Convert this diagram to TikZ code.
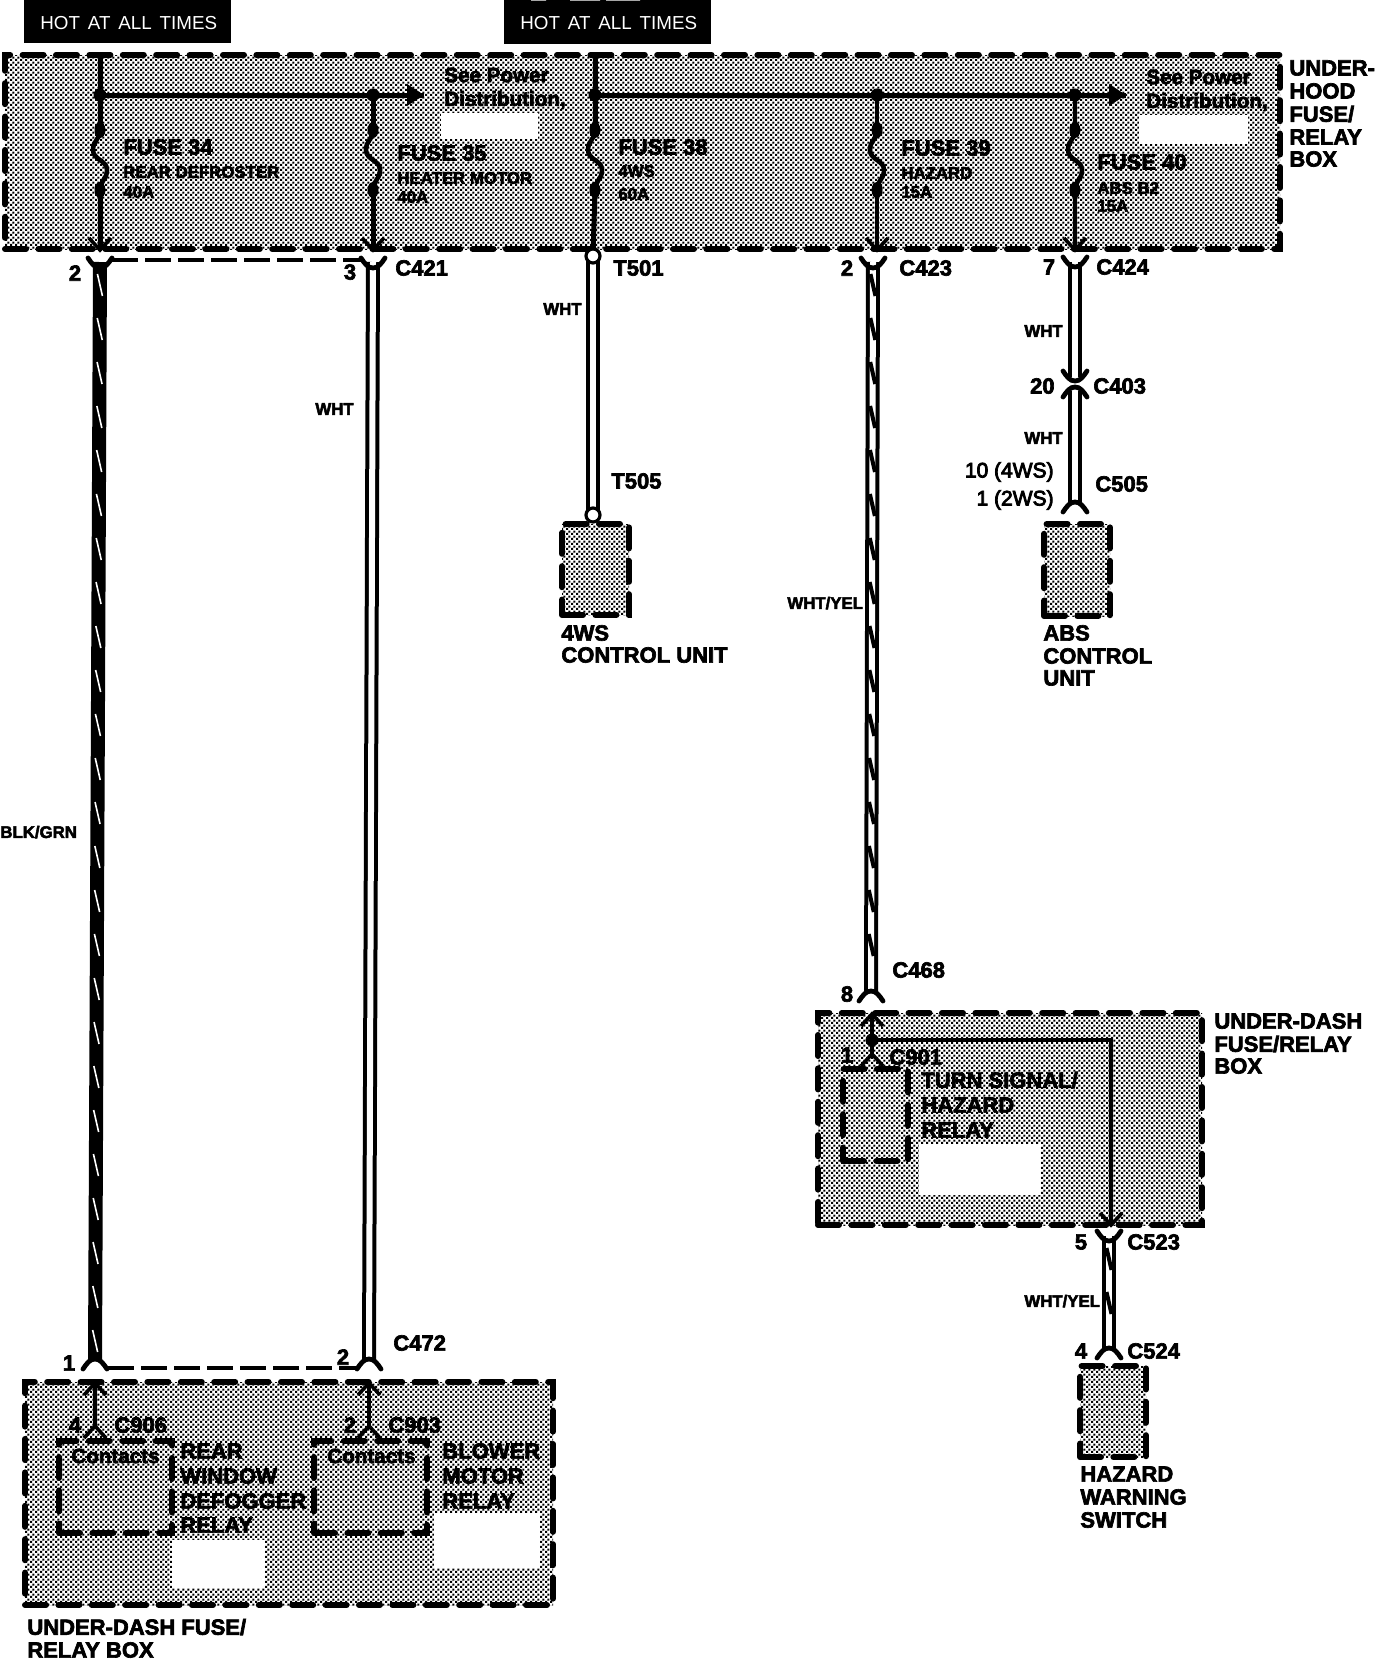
\documentclass[tikz,border=0pt]{standalone}
\usepackage{fontspec}
\usetikzlibrary{patterns,calc}
\setmainfont{Liberation Sans}
\newfontfamily\hv[FakeBold=3]{Liberation Sans Bold}
\newfontfamily\rg[FakeBold=4]{Liberation Sans}
\newfontfamily\thinf[WordSpace=1.5]{Liberation Sans}
\pgfdeclarepatternformonly{dith}{\pgfqpoint{0pt}{0pt}}{\pgfqpoint{2.6pt}{2.6pt}}{\pgfqpoint{2.6pt}{2.6pt}}{%
  \pgfpathrectangle{\pgfqpoint{0pt}{0pt}}{\pgfqpoint{1.25pt}{1.25pt}}%
  \pgfpathrectangle{\pgfqpoint{1.3pt}{1.3pt}}{\pgfqpoint{1.25pt}{1.25pt}}%
  \pgfusepath{fill}}
\tikzset{
  unitbox/.style={rectangle,draw=black,line width=3pt,dash pattern=on 10.5pt off 6.2pt,pattern=dith,pattern color=black,inner sep=0pt,line cap=round},
  relaybox/.style={rectangle,draw=black,line width=3pt,dash pattern=on 10.5pt off 6.2pt,inner sep=0pt,line cap=round},
  blank/.style={fill=white,draw=none},
  bus/.style={draw=black,line width=2.5pt},
  thinwire/.style={draw=black,line width=2pt},
  dblwire/.style={draw=black,line width=2pt,double=white,double distance=3pt},
  blkwire/.style={draw=black,line width=7pt},
  bar/.style={draw=black,line width=2pt,dash pattern=on 13pt off 3.5pt},
  big/.style={anchor=west,inner sep=0pt,font=\fontsize{11}{11}\selectfont\hv},
  small/.style={anchor=west,inner sep=0pt,font=\fontsize{8.4}{8.4}\selectfont\hv},
  reg/.style={anchor=west,inner sep=0pt,font=\fontsize{10.5}{10.5}\selectfont\rg},
  semi/.style={anchor=west,inner sep=0pt,font=\fontsize{10.3}{10.3}\selectfont\hv},
  ban/.style={anchor=west,inner sep=0pt,text=white,font=\fontsize{9.4}{9.4}\selectfont\thinf},
  pics/sockdown/.style={code={\draw[line width=2.4pt,line cap=round] (-12,0) .. controls (-8,6) and (-5,10) .. (0,10) .. controls (5,10) and (8,6) .. (12,0);}},
  pics/sockup/.style={code={\draw[line width=2.4pt,line cap=round] (-12,0) .. controls (-8,-6) and (-5,-10) .. (0,-10) .. controls (5,-10) and (8,-6) .. (12,0);}},
  pics/vdown/.style={code={\draw[line width=1.8pt] (-11,-12) -- (0,0) -- (11,-12);}},
  pics/vup/.style={code={\draw[line width=1.8pt] (-11,12) -- (0,0) -- (11,12);}},
  pics/fuselink/.style={code={
    \draw[line width=2.3pt] (0,0) .. controls (0,10) and (-7,10) .. (-7,20) .. controls (-7,30) and (7,30) .. (7,40) .. controls (7,50) and (0,50) .. (0,60);
    \fill (0,0) ellipse[x radius=5.5,y radius=8];
    \fill (0,60) ellipse[x radius=5.5,y radius=8];}},
}
\newcommand{\boxnode}[6][unitbox]{\node[#1,minimum width={(#5-#3)*0.5pt},minimum height={(#6-#4)*0.5pt}] (#2) at ({(#3+#5)/2},{(#4+#6)/2}) {};}
\newcommand{\wiretick}[6]{% x1 y1 x2 y2 colour width
  \pgfmathtruncatemacro{\nt}{(#4-#2-30)/44}
  \foreach \k in {0,...,\nt}{
    \pgfmathsetmacro{\yy}{#2+12+44*\k}
    \pgfmathsetmacro{\xx}{#1+(#3-#1)*(\yy-#2)/(#4-#2)}
    \draw[draw=#5,line width=#6] (\xx-2.5,\yy) -- (\xx+2.5,\yy+22);
  }}
\begin{document}
\begin{tikzpicture}[x=0.5pt,y=-0.5pt]
\useasboundingbox (0,0) rectangle (1392,1660);
% banners
\node[fill=black,inner sep=0pt,minimum width=103.5pt,minimum height=21.4pt] (ban1) at (127.5,21.4) {};
\node[fill=black,inner sep=0pt,minimum width=103.5pt,minimum height=21.8pt] (ban2) at (607.5,21.8) {};
\fill[white] (531,0) rectangle (546,0.7) (570,0) rectangle (600,0.7) (606,0) rectangle (640,0.7);
\node[ban] (bt1) at (40,23) {HOT AT ALL TIMES};
\node[ban] (bt2) at (520,23.5) {HOT AT ALL TIMES};
% boxes
\boxnode{hood}{5}{55}{1280}{249}
\boxnode{dashtop}{818}{1013}{1202}{1225}
\boxnode{dashbot}{25}{1382}{553}{1605}
\boxnode{ws}{562}{524}{629}{615}
\boxnode{abs}{1044}{524}{1110}{616}
\boxnode{haz}{1080}{1366}{1146}{1457}
\boxnode[relaybox]{rel1}{59}{1441}{172}{1533}
\boxnode[relaybox]{rel2}{314}{1441}{427}{1533}
\boxnode[relaybox]{rel3}{843}{1069}{908}{1161}
% blanked areas
\fill[blank] (441,113) rectangle (538,139);
\fill[blank] (1139,115) rectangle (1248,144);
\fill[blank] (919,1144) rectangle (1041,1195);
\fill[blank] (172,1540) rectangle (265,1588);
\fill[blank] (434,1513) rectangle (540,1568);
% named wire points
\coordinate (f34t) at (100,54);   \coordinate (f34j) at (100,95);  \coordinate (f34a) at (100,130); \coordinate (f34b) at (100,190); \coordinate (f34e) at (100,250);
\coordinate (f35j) at (373,95);   \coordinate (f35a) at (373,130); \coordinate (f35b) at (373,190); \coordinate (f35e) at (373,250);
\coordinate (f38t) at (595,54);   \coordinate (f38j) at (595,95);  \coordinate (f38a) at (595,130); \coordinate (f38b) at (595,190); \coordinate (f38e) at (593,256);
\coordinate (f39j) at (877,95);   \coordinate (f39a) at (877,130); \coordinate (f39b) at (877,190); \coordinate (f39e) at (877,250);
\coordinate (f40j) at (1075,95);  \coordinate (f40a) at (1075,130); \coordinate (f40b) at (1075,190); \coordinate (f40e) at (1075,250);
\coordinate (bus1) at (424,95);   \coordinate (bus2) at (1126,95);
\coordinate (c421a) at (100,262); \coordinate (c472a) at (95,1360);
\coordinate (c421b) at (373,262); \coordinate (c472b) at (369,1360);
\coordinate (t505) at (593,515);
\coordinate (c423) at (873,262);  \coordinate (c468) at (871,993);
\coordinate (c424) at (1075,262); \coordinate (c403u) at (1075,377);
\coordinate (c403l) at (1075,391);\coordinate (c505) at (1075,505);
\coordinate (tu) at (872,1040);   \coordinate (tr) at (1111,1040); \coordinate (te) at (1111,1225);
\coordinate (c523) at (1109,1236);\coordinate (c524) at (1109,1350);
% bus lines
\draw[bus] (f34t) -- (f34a);
\draw[bus] (f34b) -- (f34e);
\draw[bus] (f34j) -- (bus1);
\draw[bus] (f35j) -- (f35a);
\draw[bus] (f35b) -- (f35e);
\draw[bus] (f38t) -- (f38a);
\draw[bus] (f38b) -- (f38e);
\draw[bus] (f38j) -- (bus2);
\draw[thinwire] (f39j) -- (f39a);
\draw[thinwire] (f39b) -- (f39e);
\draw[thinwire] (f40j) -- (f40a);
\draw[thinwire] (f40b) -- (f40e);
\fill (bus1) -- ++(-17,-11) -- ++(0,22) -- cycle;
\fill (bus2) -- ++(-17,-11) -- ++(0,22) -- cycle;
\foreach \p in {f34j,f35j,f38j,f39j,f40j}{\fill (\p) circle[radius=6.5];}
\pic at (f34a) {fuselink};
\pic at (f35a) {fuselink};
\pic at (f38a) {fuselink};
\pic at (f39a) {fuselink};
\pic at (f40a) {fuselink};
\pic at (f34e) {vdown};
\pic at (f35e) {vdown};
\pic at (f39e) {vdown};
\pic at (f40e) {vdown};
% dashed connector bars
\draw[bar] (112,260) -- (361,260);
\draw[bar] (108,1368) -- (357,1368);
% harness wires
\draw[blkwire] (c421a) -- (c472a);
\wiretick{100}{262}{95}{1360}{white}{0.8pt}
\draw[dblwire] (c421b) -- (c472b);
\draw[dblwire] (f38e) -- (t505);
\draw[dblwire] (c423) -- (c468);
\wiretick{873}{262}{871}{993}{black}{2pt}
\draw[dblwire] (c424) -- (c403u);
\draw[dblwire] (c403l) -- (c505);
\draw[dblwire] (c523) -- (c524);
\wiretick{1109}{1236}{1109}{1350}{black}{2pt}
\draw[draw=black,fill=white,line width=1.6pt] (f38e) circle[radius=7];
\draw[draw=black,fill=white,line width=1.6pt] (t505) circle[radius=7];
% sockets
\pic at (100,258) {sockdown};
\pic at (373,258) {sockdown};
\pic at (873,258) {sockdown};
\pic at (1075,257) {sockdown};
\pic at (1075,371) {sockdown};
\pic at (1075,397) {sockup};
\pic at (1075,512) {sockup};
\pic at (871,1001) {sockup};
\pic at (1109,1231) {sockdown};
\pic at (1109,1358) {sockup};
\pic at (95,1369) {sockup};
\pic at (369,1369) {sockup};
% under-dash internals
\coordinate (c906t) at (95,1383); \coordinate (c906b) at (95,1426);
\coordinate (c903t) at (369,1383); \coordinate (c903b) at (369,1426);
\coordinate (c901t) at (872,1014); \coordinate (c901b) at (872,1054);
\draw[line width=1.8pt] (c906t) -- (c906b);
\draw[line width=1.8pt] (c903t) -- (c903b);
\draw[line width=1.8pt] (c901t) -- (c901b);
\pic at (c906t) {vup}; \pic at (c906b) {vup};
\pic at (c903t) {vup}; \pic at (c903b) {vup};
\pic at (c901t) {vup}; \pic at (c901b) {vup};
\draw[thinwire] (tu) -- (tr) -- (te);
\fill (tu) circle[radius=6.5];
\pic at (te) {vdown};
% labels, under-hood box
\node[big] (l1) at (123,147) {FUSE 34};
\node[small] (l2) at (123,172) {REAR DEFROSTER};
\node[small] (l3) at (123,192) {40A};
\node[big] (l4) at (397,153) {FUSE 35};
\node[small] (l5) at (397,178) {HEATER MOTOR};
\node[small] (l6) at (397,197) {40A};
\node[semi] (l7) at (444,75) {See Power};
\node[semi] (l8) at (444,100) {Distribution,};
\node[big] (l9) at (618,147) {FUSE 38};
\node[small] (l10) at (618,171) {4WS};
\node[small] (l11) at (618,194) {60A};
\node[big] (l12) at (901,148) {FUSE 39};
\node[small] (l13) at (901,173) {HAZARD};
\node[small] (l14) at (901,192) {15A};
\node[big] (l15) at (1097,162) {FUSE 40};
\node[small] (l16) at (1097,188) {ABS B2};
\node[small] (l17) at (1097,206) {15A};
\node[semi] (l18) at (1146,77) {See Power};
\node[semi] (l19) at (1146,102) {Distribution,};
\node[big] (l20) at (1289,68) {UNDER-};
\node[big] (l21) at (1289,91) {HOOD};
\node[big] (l22) at (1289,114) {FUSE/};
\node[big] (l23) at (1289,137) {RELAY};
\node[big] (l24) at (1289,159) {BOX};
% connector labels
\node[big,anchor=center] (n1) at (75,273) {2};
\node[big,anchor=center] (n2) at (350,272) {3};
\node[big] (n3) at (395,268) {C421};
\node[big] (n4) at (613,268) {T501};
\node[big,anchor=center] (n5) at (847,268) {2};
\node[big] (n6) at (899,268) {C423};
\node[big,anchor=center] (n7) at (1049,267) {7};
\node[big] (n8) at (1096,267) {C424};
\node[small,anchor=east] (n9) at (582,309) {WHT};
\node[small] (n10) at (315,409) {WHT};
\node[small] (n11) at (0,832) {BLK/GRN};
\node[small] (n12) at (787,603) {WHT/YEL};
\node[big] (n13) at (611,481) {T505};
\node[small] (n14) at (1024,331) {WHT};
\node[big,anchor=east] (n15) at (1055,386) {20};
\node[big] (n16) at (1093,386) {C403};
\node[small] (n17) at (1024,438) {WHT};
\node[reg,anchor=east] (n18) at (1054,472) {10 (4WS)};
\node[reg,anchor=east] (n19) at (1054,500) {1 (2WS)};
\node[big] (n20) at (1095,484) {C505};
\node[big] (n21) at (561,633) {4WS};
\node[big] (n22) at (561,655) {CONTROL UNIT};
\node[big] (n23) at (1043,633) {ABS};
\node[big] (n24) at (1043,656) {CONTROL};
\node[big] (n25) at (1043,678) {UNIT};
\node[big] (n26) at (892,970) {C468};
\node[big,anchor=center] (n27) at (847,994) {8};
\node[big] (n28) at (1214,1021) {UNDER-DASH};
\node[big] (n29) at (1214,1044) {FUSE/RELAY};
\node[big] (n30) at (1214,1066) {BOX};
\node[big,anchor=center] (n31) at (847,1055) {1};
\node[big] (n32) at (889,1057) {C901};
\node[big] (n33) at (921,1080) {TURN SIGNAL/};
\node[big] (n34) at (921,1105) {HAZARD};
\node[big] (n35) at (921,1130) {RELAY};
\node[big,anchor=center] (n36) at (1081,1242) {5};
\node[big] (n37) at (1127,1242) {C523};
\node[small] (n38) at (1024,1301) {WHT/YEL};
\node[big,anchor=center] (n39) at (1081,1351) {4};
\node[big] (n40) at (1127,1351) {C524};
\node[big] (n41) at (1080,1474) {HAZARD};
\node[big] (n42) at (1080,1497) {WARNING};
\node[big] (n43) at (1080,1520) {SWITCH};
\node[big] (n44) at (393,1343) {C472};
\node[big,anchor=center] (n45) at (69,1363) {1};
\node[big,anchor=center] (n46) at (343,1357) {2};
\node[big,anchor=center] (n47) at (75,1425) {4};
\node[big] (n48) at (114,1425) {C906};
\node[big,anchor=center] (n49) at (350,1425) {2};
\node[big] (n50) at (388,1425) {C903};
\node[semi] (n51) at (71,1456) {Contacts};
\node[semi] (n52) at (327,1456) {Contacts};
\node[big] (n53) at (180,1451) {REAR};
\node[big] (n54) at (180,1476) {WINDOW};
\node[big] (n55) at (180,1501) {DEFOGGER};
\node[big] (n56) at (180,1525) {RELAY};
\node[big] (n57) at (442,1451) {BLOWER};
\node[big] (n58) at (442,1476) {MOTOR};
\node[big] (n59) at (442,1501) {RELAY};
\node[big] (n60) at (27,1627) {UNDER-DASH FUSE/};
\node[big] (n61) at (27,1650) {RELAY BOX};
\end{tikzpicture}
\end{document}
